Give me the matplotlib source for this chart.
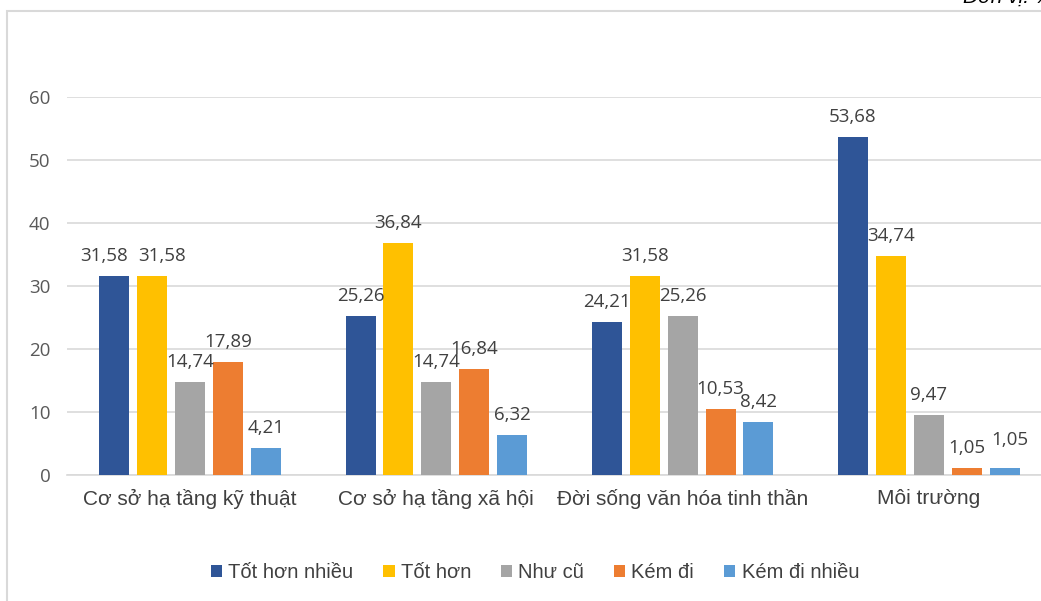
import matplotlib.pyplot as plt
from matplotlib.patches import Rectangle
import numpy as np

plt.rcParams['font.family'] = ['Liberation Sans', 'DejaVu Sans']

categories = ['Cơ sở hạ tầng kỹ thuật', 'Cơ sở hạ tầng xã hội',
              'Đời sống văn hóa tinh thần', 'Môi trường']
series_names = ['Tốt hơn nhiều', 'Tốt hơn', 'Như cũ', 'Kém đi', 'Kém đi nhiều']
tot_hon_nhieu = [31.58, 25.26, 24.21, 53.68]
tot_hon = [31.58, 36.84, 31.58, 34.74]
nhu_cu = [14.74, 14.74, 25.26, 9.47]
kem_di = [17.89, 16.84, 10.53, 1.05]
kem_di_nhieu = [4.21, 6.32, 8.42, 1.05]
series = [tot_hon_nhieu, tot_hon, nhu_cu, kem_di, kem_di_nhieu]
colors = ['#2F5597', '#FFC000', '#A5A5A5', '#ED7D31', '#5B9BD5']

# dịch nhãn dữ liệu (theo điểm) để tránh chồng nhau
nudge = {(0, 0): (-7, 0), (1, 0): (7, 0), (4, 3): (4, 6)}

fig = plt.figure(figsize=(10.41, 6.01), dpi=100)
# khung viền (bị cắt ở bên phải)
fig.patches.append(Rectangle((7 / 1041, -0.1), 1.2, 1 - 11 / 601 + 0.1,
                             transform=fig.transFigure, fill=False,
                             edgecolor='#d9d9d9', lw=1.5))
ax = fig.add_axes([67 / 1041, 1 - 475 / 601, 985 / 1041, 378 / 601])

x = np.arange(len(categories))
width = 0.122
step = 0.154
for i, (vals, name, c) in enumerate(zip(series, series_names, colors)):
    pos = x + (i - 2) * step
    bars = ax.bar(pos, vals, width=width, color=c, label=name, zorder=3)
    for j, (b, v) in enumerate(zip(bars, vals)):
        dx, dy = nudge.get((i, j), (0, 0))
        ax.annotate(f'{v:.2f}'.replace('.', ','),
                    (b.get_x() + b.get_width() / 2, v),
                    xytext=(dx, 8 + dy), textcoords='offset points',
                    ha='center', va='bottom', fontsize=13.5,
                    family=['Open Sans', 'DejaVu Sans'], color='#404040',
                    annotation_clip=False, zorder=4)

ax.set_xlim(-0.5, 3.5)
ax.set_ylim(0, 60)
ax.set_yticks(range(0, 61, 10))
ax.yaxis.grid(True, color='#d9d9d9', lw=1.2, zorder=0)
for s in ['top', 'right', 'left']:
    ax.spines[s].set_visible(False)
ax.spines['bottom'].set_color('#d9d9d9')
ax.spines['bottom'].set_linewidth(1.2)
ax.tick_params(axis='both', length=0)
ax.tick_params(axis='y', labelsize=13.5, labelcolor='#595959', pad=12)
for t in ax.get_yticklabels():
    t.set_family(['Open Sans', 'DejaVu Sans'])
ax.set_xticks(x)
ax.set_xticklabels(categories, fontsize=15, color='#404040')
ax.tick_params(axis='x', pad=10)

fig.legend(loc='center', bbox_to_anchor=(535 / 1041, 1 - 573 / 601), ncol=5,
           frameon=False, fontsize=14.5, handlelength=0.55, handleheight=0.55,
           columnspacing=1.5, handletextpad=0.3, labelcolor='#404040')

fig.text(0.925, 1.005, 'Đơn vị: %', fontsize=15, style='italic',
         ha='left', va='center')

fig.savefig('out.png', dpi=100)
